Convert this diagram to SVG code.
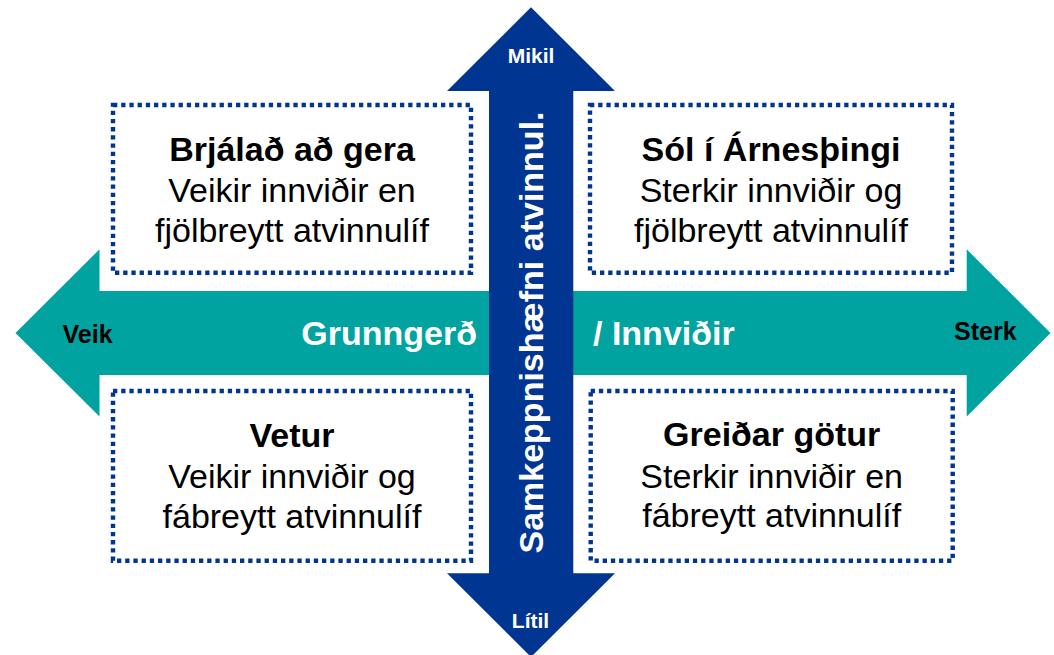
<svg xmlns="http://www.w3.org/2000/svg" width="1054" height="655" viewBox="0 0 1054 655">
<style>
.box{fill:#fff;stroke:#003591;stroke-width:4.4;stroke-dasharray:4.3 3.9}
.t{font-family:"Liberation Sans",Arial,sans-serif;font-size:34px;fill:#000;text-anchor:middle}
.b{font-weight:bold}
.w{font-family:"Liberation Sans",Arial,sans-serif;font-weight:bold;fill:#fff}
.k{font-family:"Liberation Sans",Arial,sans-serif;font-weight:bold;fill:#000;font-size:25px}
</style>
<rect width="1054" height="655" fill="#fff"/>
<g id="connectors">
<polygon id="axis-h" fill="#00A3A0" points="15.5,333 99.5,249.3 99.5,291 966.7,291 966.7,249.3 1050.5,333 966.7,416.5 966.7,375 99.5,375 99.5,416.5"/>
<polygon id="axis-v" fill="#003591" points="531,7.3 615,91 573.3,91 573.3,573.3 615,573.3 531,657 447,573.3 489,573.3 489,91 447,91"/>
</g>
<g id="labels">
<text class="k" x="62.5" y="342.7">Veik</text>
<text class="k" x="954" y="340">Sterk</text>
<text class="w" x="477" y="345" font-size="34" text-anchor="end">Grunngerð</text>
<text class="w" x="593" y="345" font-size="34">/ Innviðir</text>
<text class="w" x="531" y="63.3" font-size="21" text-anchor="middle">Mikil</text>
<text class="w" x="530.5" y="628.3" font-size="21" text-anchor="middle">Lítil</text>
<text class="w" font-size="34" text-anchor="middle" transform="translate(543,332.5) rotate(-90)">Samkeppnishæfni atvinnul.</text>
</g>
<g id="box-tl">
<rect class="box" x="113" y="105" width="358" height="167.7"/>
<text class="t b" x="292" y="161">Brjálað að gera</text>
<text class="t" x="292" y="202">Veikir innviðir en</text>
<text class="t" x="292" y="242">fjölbreytt atvinnulíf</text>
</g>
<g id="box-tr">
<rect class="box" x="590" y="105" width="362" height="167.7"/>
<text class="t b" x="771" y="161">Sól í Árnesþingi</text>
<text class="t" x="771" y="202">Sterkir innviðir og</text>
<text class="t" x="771" y="242">fjölbreytt atvinnulíf</text>
</g>
<g id="box-bl">
<rect class="box" x="113" y="391" width="358" height="169.7"/>
<text class="t b" x="292" y="447">Vetur</text>
<text class="t" x="292" y="488">Veikir innviðir og</text>
<text class="t" x="292" y="527.5">fábreytt atvinnulíf</text>
</g>
<g id="box-br">
<rect class="box" x="590.7" y="391" width="362" height="169.7"/>
<text class="t b" x="771.7" y="446">Greiðar götur</text>
<text class="t" x="771.7" y="488">Sterkir innviðir en</text>
<text class="t" x="771.7" y="527">fábreytt atvinnulíf</text>
</g>
</svg>
